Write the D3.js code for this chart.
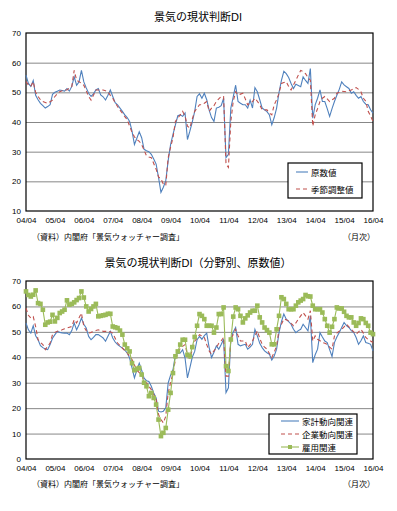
<!DOCTYPE html>
<html>
<head>
<meta charset="utf-8">
<script src="https://cdn.jsdelivr.net/npm/d3@7"></script>
<style>
  body { margin: 0; background: #fff; }
  svg text { font-family: "Liberation Sans", "Noto Sans CJK JP", sans-serif; fill: #000; }
</style>
</head>
<body>
<svg id="chart" width="397" height="511"></svg>
<script>
// x tick labels (one per April, 2004..2016)
const yearLabels = ['04/04','05/04','06/04','07/04','08/04','09/04','10/04','11/04','12/04','13/04','14/04','15/04','16/04'];

// top chart: monthly values 2004/04 .. 2016/04
const genSuu = [55.8,53,52,54,49,47.5,46.3,45.5,44.7,45.2,45.8,49.3,
  50,50.4,50.8,50.6,50.4,51.3,50.4,52,55.2,52.4,53.5,57.4,
  53.5,51.5,49.7,48.6,49.5,50.8,51.3,49.1,48.5,47.4,49,50.8,
  48.6,46.5,45.8,44.7,43.6,42.4,41.5,40.2,36.9,32.4,34.5,36.7,
  34.7,30.8,30.3,30,29.1,27.5,25.8,21.3,16.3,18,20.2,27,
  32.4,35.8,39,42.1,42.4,41.9,43,34.1,36.9,40,43.6,48.6,
  49.5,48,49.7,47.5,44,41.5,40.2,44.7,45,45.5,48,28,
  29.1,44.7,48.5,52.4,46.9,46.3,45.8,45.8,44.7,47.4,44.7,51.6,
  50.2,47.5,44.7,44.1,43.5,42.4,39.1,41.5,44.7,50,54,57.1,
  56.3,55,53,51.3,52.7,52.3,51.9,55.2,54,53,58,41.3,
  45.8,48,50.8,46.9,46.9,44.5,41.9,44.5,46.9,49,51,53.5,
  52.5,51.9,51.3,49.7,50.2,49,48,48.6,46.9,46,45.8,44.1,43];
const kisetsu = [53.6,52.5,52,53.6,50,48.6,47.5,46.9,46.6,46.3,46.8,47.4,
  48.6,49.5,50.2,50.5,50.8,50.8,51.5,51.9,57.4,54.1,53.6,53,
  52.4,50.5,48.6,47.4,49,50.8,50.8,50.8,50.8,50.5,50.2,49,
  48,46.5,45.2,44,43,41.8,40.8,38.6,36.5,35,34.1,33.5,
  32.4,30.5,28.6,28.2,28,26,24.1,21.5,20.8,19.1,18.6,28,
  31.5,34.7,40.2,41.3,42.4,43.6,42,38.6,38,41,43.6,44.7,
  45.8,45.8,46.3,46.9,43.6,44.7,45.5,46.9,47.8,48.6,48.6,25.8,
  24.7,40.2,47,50.2,49.1,49.4,49.7,47.8,45.8,46.5,46.9,48,
  47,45.8,44.1,44.1,44.1,43,42.4,45.8,47.5,49.7,53,53.3,
  53.6,52,50.8,52.5,54.1,55.8,57.4,57,56.3,55,54.1,38.6,
  42.4,44.5,46.9,48,48.6,47.8,46.9,47.5,48,49.7,50,50.4,
  50.3,50.2,50.5,50.8,51.2,51.6,51,50.2,48,47,43.6,42,40.2];

// bottom chart: by sector, original values
const kakei = [53.5,50.8,49.5,52.4,48.5,46.9,44.6,43.8,43.3,43,45,47.5,
  48.9,50.2,49.8,49.6,49.5,49.5,48.9,50.5,53.5,50.8,52.8,55.4,
  53,51.5,48.2,46.9,47.8,48.9,48.9,48.3,47.6,46.3,48.3,50.2,
  47.6,46,45,44.3,43.6,42.8,41.7,39.7,35.8,31.9,35,37.7,
  34.9,31.8,30.8,30.5,28.6,26,24,18.8,18.5,18.8,20.1,29.9,
  33,35.1,41,41.5,41.7,43,39.7,31.9,35.8,40,42.3,46.9,
  48.2,47.1,48.5,49.5,43.8,39.9,42,44.5,43.2,45,47.1,26.1,
  28,47.1,50,51.7,45.1,44.5,44.8,45.1,43.2,44,45.1,51,
  48.4,45.5,43.8,42.5,41.8,41.2,38.9,40.5,43.2,49.7,54,57,
  55,54,53,51,49.7,50.5,51,53,51.7,50.4,56.3,37.9,
  41,43.2,49.7,48,46.4,45.8,43,40.3,45.8,48,49.7,51.7,
  53.7,52.5,51.7,50.5,49.7,47.8,45.1,46.5,48.4,45.8,45.5,45.1,42.5];
const kigyou = [59.3,56.5,55.4,56,52.1,46.9,45.8,45,43,44.3,45.6,48.9,
  49.8,50.2,50.5,50.8,51.2,51.5,51.8,52.1,54.8,53.5,55.5,57.4,
  52.1,50.5,49.5,49.8,50.2,50.5,50.8,50.5,50.2,50.2,50.2,50,
  49.5,47.5,45.6,44.6,43.6,42.6,41.7,40.4,39.1,37,34.9,34,
  33.2,30.5,29.9,28.6,27.3,25.3,23.4,17.5,15.5,14.2,16.8,26,
  30,33.8,39.1,41.5,43.6,44.3,45,41,39.7,43,46.3,47.5,
  48.9,48.4,47.8,45,42.5,41.2,42.5,43.8,45.5,46.5,47.8,32.6,
  32.6,47.1,49,51,48.5,46.4,46.4,46.4,43.8,45,46.4,48.5,
  50.4,47.5,45.1,44,43.2,41.5,39.9,42,44.5,51,53,55,
  54.8,54.3,53.3,52.4,53.5,55,56.3,57.6,56.3,55,58.3,46.4,
  48.4,47.1,46.5,45.8,45.5,45.1,44,43.2,48.4,49.5,50.3,51,
  52,53,52,51,50,49.1,50,51,49.5,47.8,47,46.4,45.8];
const koyou = [65.9,64.5,63.9,64.6,66.3,61.3,61,58.7,52.8,53.7,54,56.7,
  54.1,55.5,57.4,58,58.7,62.4,60.7,61,61.6,62.5,63.3,65.9,
  63.5,60,58,59,60,61,56.1,56.3,56.5,56.7,57.1,57.1,
  52.1,51.8,51.5,50.5,48.9,45,43.5,42.3,37.7,34.9,35.5,35.8,
  33.2,30,28.6,24.7,26,24,21.4,15.5,9,10.3,12.2,19.4,
  26,33.8,40.4,42.3,45,46.9,46.9,41,40.4,44,48,52.4,
  57,56.3,55,52.4,52.4,52.4,49.7,51.7,57,57,59.6,36.5,
  34.6,47,56,59.6,58.9,56.3,53.7,55.3,56.5,57.6,58.3,58.3,
  60.3,55.7,53.7,51.7,50.7,49.7,45.1,45.1,51,56.3,63.6,62.9,
  61,58.9,58.9,58.9,60.3,61.6,62.3,62.9,64.5,64,63.9,60.3,
  58.9,58.9,58.9,57.6,55,52.4,49.7,52,55,59.6,59.2,59.2,
  57.9,56.3,55.7,55.7,53.7,52.4,53.5,55.3,55,53.5,52.4,49.7,49.1];

const BLUE = '#4F81BD', RED = '#C0504D', GREEN = '#9BBB59';
const svg = d3.select('#chart');
const X0 = 26, X1 = 373;

function drawChart(o) {
  const g = svg.append('g');
  const x = d3.scaleLinear().domain([0, 144]).range([X0, X1]);
  const y = d3.scaleLinear().domain(o.yDomain).range([o.bottom, o.top]);
  // title
  g.append('text').attr('x', 198).attr('y', o.titleY).attr('text-anchor', 'middle')
    .attr('font-size', 11).text(o.title);
  // grid
  g.append('g').attr('transform', `translate(${X0},0)`)
    .call(d3.axisLeft(y).tickValues(o.grid).tickSize(-(X1 - X0)).tickFormat(''))
    .call(a => a.select('.domain').remove())
    .call(a => a.selectAll('line').attr('stroke', '#878787').attr('stroke-width', 1));
  // y labels
  g.append('g').attr('transform', `translate(${X0},0)`)
    .call(d3.axisLeft(y).tickValues(o.yTicks).tickSize(0).tickPadding(5))
    .call(a => a.select('.domain').remove())
    .call(a => a.selectAll('text').attr('font-size', 8).attr('font-family', '"Liberation Sans", sans-serif'));
  // x labels
  g.append('g').attr('transform', `translate(0,${o.bottom})`)
    .call(d3.axisBottom(x).tickValues(d3.range(0, 145, 12)).tickSize(0).tickPadding(6)
      .tickFormat((d, i) => yearLabels[i]))
    .call(a => a.select('.domain').remove())
    .call(a => a.selectAll('text').attr('font-size', 8).attr('font-family', '"Liberation Sans", sans-serif'));
  // frame
  g.append('rect').attr('x', X0).attr('y', o.top).attr('width', X1 - X0).attr('height', o.bottom - o.top)
    .attr('fill', 'none').attr('stroke', '#000').attr('stroke-width', 1.2);
  // series
  o.series.forEach(s => {
    const line = d3.line().x((d, i) => x(i)).y(d => y(d));
    g.append('path').datum(s.values).attr('d', line).attr('fill', 'none')
      .attr('stroke', s.color).attr('stroke-width', s.width || 1.1)
      .attr('stroke-dasharray', s.dash || null);
    if (s.marker) {
      g.append('g').selectAll('rect').data(s.values).join('rect')
        .attr('x', (d, i) => x(i) - 2.3).attr('y', d => y(d) - 2.3)
        .attr('width', 4.6).attr('height', 4.6).attr('fill', s.color);
    }
  });
  // legend
  const L = o.legend;
  g.append('rect').attr('x', L.x).attr('y', L.y).attr('width', L.w).attr('height', L.h)
    .attr('fill', '#fff').attr('stroke', '#000').attr('stroke-width', 1.2);
  o.series.forEach((s, i) => {
    const ly = L.y + L.pad + i * L.step;
    g.append('line').attr('x1', L.x + L.lx0).attr('x2', L.x + L.lx1).attr('y1', ly).attr('y2', ly)
      .attr('stroke', s.color).attr('stroke-width', s.width || 1.1).attr('stroke-dasharray', s.dash || null);
    if (s.marker) {
      g.append('rect').attr('x', L.x + (L.lx0 + L.lx1) / 2 - 2).attr('y', ly - 2)
        .attr('width', 4).attr('height', 4).attr('fill', s.color);
    }
    g.append('text').attr('x', L.x + L.lx1 + 3).attr('y', ly + 3.5).attr('font-size', 8.5).text(s.name);
  });
  // source + unit
  g.append('text').attr('x', 32).attr('y', o.srcY).attr('font-size', 8).text('（資料）内閣府「景気ウォッチャー調査」');
  g.append('text').attr('x', 375).attr('y', o.srcY).attr('text-anchor', 'end').attr('font-size', 8).text('（月次）');
}

drawChart({
  title: '景気の現状判断DI', titleY: 21,
  top: 33, bottom: 211, yDomain: [10, 70],
  grid: [20, 30, 40, 50, 60], yTicks: [10, 20, 30, 40, 50, 60, 70],
  srcY: 240,
  series: [
    { name: '原数値', values: genSuu, color: BLUE },
    { name: '季節調整値', values: kisetsu, color: RED, dash: '4,3' }
  ],
  legend: { x: 288, y: 163, w: 74, h: 35, pad: 9, step: 17, lx0: 8, lx1: 20 }
});

drawChart({
  title: '景気の現状判断DI（分野別、原数値）', titleY: 267,
  top: 281, bottom: 459, yDomain: [0, 70],
  grid: [10, 20, 30, 40, 50, 60], yTicks: [0, 10, 20, 30, 40, 50, 60, 70],
  srcY: 487,
  series: [
    { name: '家計動向関連', values: kakei, color: BLUE },
    { name: '企業動向関連', values: kigyou, color: RED, dash: '4,3' },
    { name: '雇用関連', values: koyou, color: GREEN, marker: true }
  ],
  legend: { x: 269, y: 414, w: 88, h: 40, pad: 7, step: 13, lx0: 12, lx1: 30 }
});
</script>
</body>
</html>
